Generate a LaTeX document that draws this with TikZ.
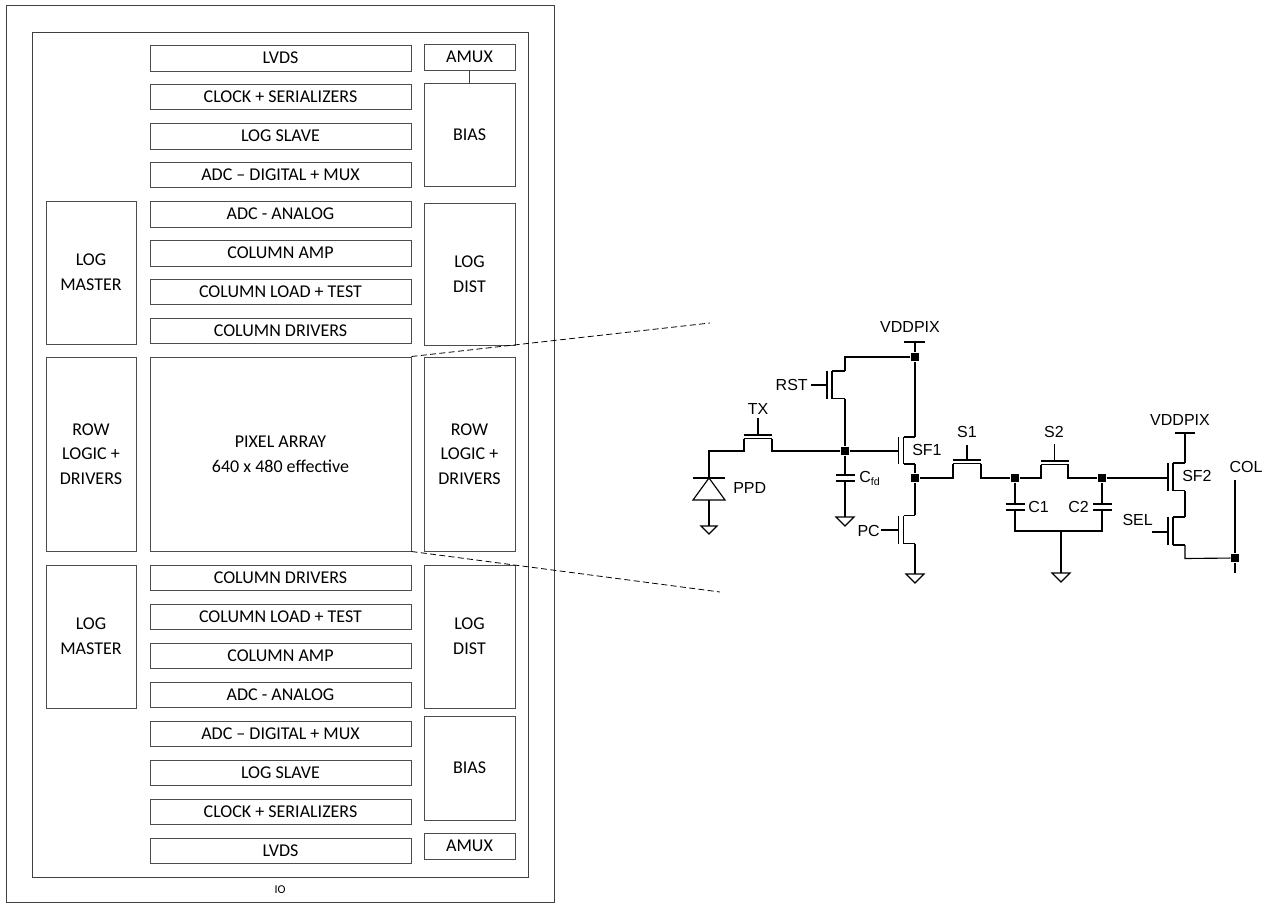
\documentclass[tikz,border=0pt]{standalone}
\usepackage{fontspec}
\setmainfont{Carlito}
\newfontfamily\arialf{Liberation Sans}
\begin{document}
\begin{tikzpicture}[x=0.75pt,y=-0.75pt,
  blk/.style={draw=black!70,line width=0.75pt,fill=white,inner sep=0pt,align=center,font=\fontsize{13.5}{18.5}\selectfont},
  frame/.style={draw=black!75,line width=0.75pt},
  wire/.style={draw=black,line width=0.85pt,line join=miter},
  lead/.style={draw=black!75,line width=0.75pt},
  dashline/.style={draw=black,line width=0.6pt,dash pattern=on 4.5pt off 2.5pt},
  dot/.style={fill=black,inner sep=0pt,minimum size=6.4pt,rectangle},
  lab/.style={inner sep=0pt,font=\arialf\fontsize{12}{14}\selectfont},
  io/.style={inner sep=0pt,font=\fontsize{9}{11}\selectfont}]
\newcommand{\blk}[6]{%
  \pgfmathsetlengthmacro{\bw}{(#4-#2)*0.75}%
  \pgfmathsetlengthmacro{\bh}{(#5-#3)*0.75}%
  \pgfmathsetmacro{\bx}{(#2+#4)/2}%
  \pgfmathsetmacro{\by}{(#3+#5)/2}%
  \node[blk,minimum width=\bw,minimum height=\bh] (#1) at (\bx,\by) {#6};}
% vertical MOS: name, channel x, top y, bottom y, gate offset; rail x
\newcommand{\mos}[4]{% #1 channel x, #2 top y, #3 bottom y, #4 rail x
  \draw[wire] (#1,#2) -- (#1,#3);
  \draw[wire] (#1-5,#2) -- (#1-5,#3);
  \draw[wire] (#4,#2) -- (#1,#2);
  \draw[wire] (#1,#3) -- (#4,#3);}
\newcommand{\gnd}[2]{% apex centre x, top y
  \draw[wire] (#1-9,#2) -- (#1+9,#2) -- (#1,#2+9) -- cycle;}
\newcommand{\capv}[2]{% x, top plate y
  \draw[wire] (#1-9.5,#2) -- (#1+9.5,#2);
  \draw[wire] (#1-9.5,#2+6) -- (#1+9.5,#2+6);}
\newcommand{\pass}[2]{% x left, top y gate
  \draw[wire] (#1,#2) -- (#1+28,#2);
  \draw[wire] (#1,#2+3.5) -- (#1+28,#2+3.5);}
\useasboundingbox (0,0) rectangle (1274,903);
\fill[white] (0,0) rectangle (1274,903);
% frames
\node[frame,inner sep=0pt,minimum width=411pt,minimum height=672.75pt] (outer) at (280,453.5) {};
\node[frame,inner sep=0pt,minimum width=372pt,minimum height=633.75pt] (inner) at (280,454.5) {};
\node[io] (iolab) at (280,889.5) {IO};
% centre column
\blk{lvdsa}{150}{45}{411}{71}{LVDS}
\blk{clka}{150}{84}{411}{109}{CLOCK + SERIALIZERS}
\blk{slavea}{150}{123}{411}{149}{LOG SLAVE}
\blk{adcda}{150}{162}{411}{187}{ADC -- DIGITAL + MUX}
\blk{adcaa}{150}{201}{411}{227}{ADC - ANALOG}
\blk{ampa}{150}{240}{411}{266}{COLUMN AMP}
\blk{loada}{150}{279}{411}{304}{COLUMN LOAD + TEST}
\blk{drva}{150}{318}{411}{343}{COLUMN DRIVERS}
\blk{pixel}{150}{357}{411}{551}{PIXEL ARRAY\\640 x 480 effective}
\blk{drvb}{150}{565}{411}{590}{COLUMN DRIVERS}
\blk{loadb}{150}{604}{411}{629}{COLUMN LOAD + TEST}
\blk{ampb}{150}{643}{411}{668}{COLUMN AMP}
\blk{adcab}{150}{682}{411}{707}{ADC - ANALOG}
\blk{adcdb}{150}{721}{411}{746}{ADC -- DIGITAL + MUX}
\blk{slaveb}{150}{760}{411}{785}{LOG SLAVE}
\blk{clkb}{150}{799}{411}{824}{CLOCK + SERIALIZERS}
\blk{lvdsb}{150}{838}{411}{863}{LVDS}
% right column
\blk{amuxa}{424}{44}{515}{70}{AMUX}
\blk{biasa}{424}{83}{515}{186}{BIAS}
\blk{dista}{424}{203}{515}{345}{LOG\\DIST}
\blk{rowr}{424}{357}{515}{551}{ROW\\LOGIC +\\DRIVERS}
\blk{distb}{424}{565}{515}{708}{LOG\\DIST}
\blk{biasb}{424}{716}{515}{820}{BIAS}
\blk{amuxb}{424}{833}{515}{859}{AMUX}
% left column
\blk{mastera}{46}{201}{136}{344}{LOG\\MASTER}
\blk{rowl}{46}{357}{136}{551}{ROW\\LOGIC +\\DRIVERS}
\blk{masterb}{46}{565}{136}{708}{LOG\\MASTER}
\draw[lead] (amuxa.south) -- (biasa.north);
% zoom lines
\coordinate (zta) at (710,323);
\coordinate (ztb) at (720,592);
\draw[dashline] (pixel.north east) -- (zta);
\draw[dashline] (pixel.south east) -- (ztb);
% junctions
\node[dot] (nvdd) at (915,357) {};
\node[dot] (nfd) at (845,451) {};
\node[dot] (nsf) at (915,478) {};
\node[dot] (nc1) at (1015,478) {};
\node[dot] (nc2) at (1102,478) {};
\node[dot] (ncol) at (1235,558) {};
% labels
\node[lab] (lvdd1) at (910,327) {VDDPIX};
\node[lab] (lvdd2) at (1180,420) {VDDPIX};
\node[lab,anchor=east] (lrst) at (808,384.5) {RST};
\node[lab] (ltx) at (758,409) {TX};
\node[lab,anchor=west] (lppd) at (733,488) {PPD};
\node[lab,anchor=west] (lcfd) at (859,478.5) {C\textsubscript{\fontsize{8}{9}\selectfont fd}};
\node[lab,anchor=west] (lsf1) at (912,450) {SF1};
\node[lab,anchor=east] (lpc) at (880,531) {PC};
\node[lab] (ls1) at (967,432) {S1};
\node[lab] (ls2) at (1054,431.5) {S2};
\node[lab,anchor=west] (lc1) at (1028,506.5) {C1};
\node[lab,anchor=east] (lc2) at (1089,506.5) {C2};
\node[lab,anchor=west] (lsf2) at (1182,476) {SF2};
\node[lab] (lcol) at (1246,467) {COL};
\node[lab,anchor=east] (lsel) at (1153,520) {SEL};
% supply
\draw[wire] (904,342) -- (925,342);
\draw[wire] (915,342) -- (nvdd);
\draw[wire] (nvdd) -- (915,437);
% RST
\draw[wire] (nvdd) -- (845,357) -- (845,371);
\mos{832}{371}{398.5}{845}
\draw[wire] (811,385) -- (827,385);
\draw[wire] (845,398.5) -- (nfd);
% TX and PPD
\pass{744}{435}
\draw[wire] (758,418) -- (758,435);
\draw[wire] (nfd) -- (772,451) -- (772,438.5);
\draw[wire] (744,438.5) -- (744,451) -- (709,451) -- (709,478);
\draw[wire] (693,478) -- (725,478);
\draw[wire] (709,478) -- (725,500) -- (693,500) -- cycle;
\draw[wire] (709,500) -- (709,526);
\draw[wire] (701,526) -- (717,526) -- (709,534) -- cycle;
% Cfd
\draw[wire] (nfd) -- (845,475);
\capv{845}{475}
\draw[wire] (845,481) -- (845,517);
\gnd{845}{517}
% SF1
\mos{903.5}{437}{464}{915}
\draw[wire] (nfd) -- (898.5,451);
\draw[wire] (915,464) -- (nsf);
\draw[wire] (nsf) -- (915,515);
% PC
\mos{903.5}{515.5}{543.5}{915}
\draw[wire] (881,530) -- (898.5,530);
\draw[wire] (915,543.5) -- (915,574);
\gnd{915}{574}
% S1
\pass{953}{460}
\draw[wire] (967,445) -- (967,460);
\draw[wire] (nsf) -- (953,478) -- (953,463.5);
\draw[wire] (981,463.5) -- (981,478) -- (nc1);
% S2
\pass{1041}{461}
\draw[wire] (1054.5,444) -- (1054.5,461);
\draw[wire] (nc1) -- (1041,478) -- (1041,464.5);
\draw[wire] (1068,464.5) -- (1068,478) -- (nc2);
% C1 C2
\draw[wire] (nc1) -- (1015,504);
\capv{1015}{504}
\draw[wire] (nc2) -- (1102,504);
\capv{1102.5}{504}
\draw[wire] (1015,510) -- (1015,531) -- (1102,531) -- (1102,510);
\draw[wire] (1061,531) -- (1061,573);
\gnd{1061}{573}
% SF2
\draw[wire] (nc2) -- (1168,478);
\mos{1173}{463}{490.5}{1185}
\draw[wire] (1175,433) -- (1195,433);
\draw[wire] (1185,433) -- (1185,463);
\draw[wire] (1185,490.5) -- (1185,517);
% SEL
\mos{1173}{517}{545}{1185}
\draw[wire] (1152,532) -- (1168,532);
\draw[wire] (1185,545) -- (1185,558.5) -- (ncol);
% COL
\draw[wire] (1235,480) -- (ncol);
\draw[wire] (ncol) -- (1235,573);
\end{tikzpicture}
\end{document}
